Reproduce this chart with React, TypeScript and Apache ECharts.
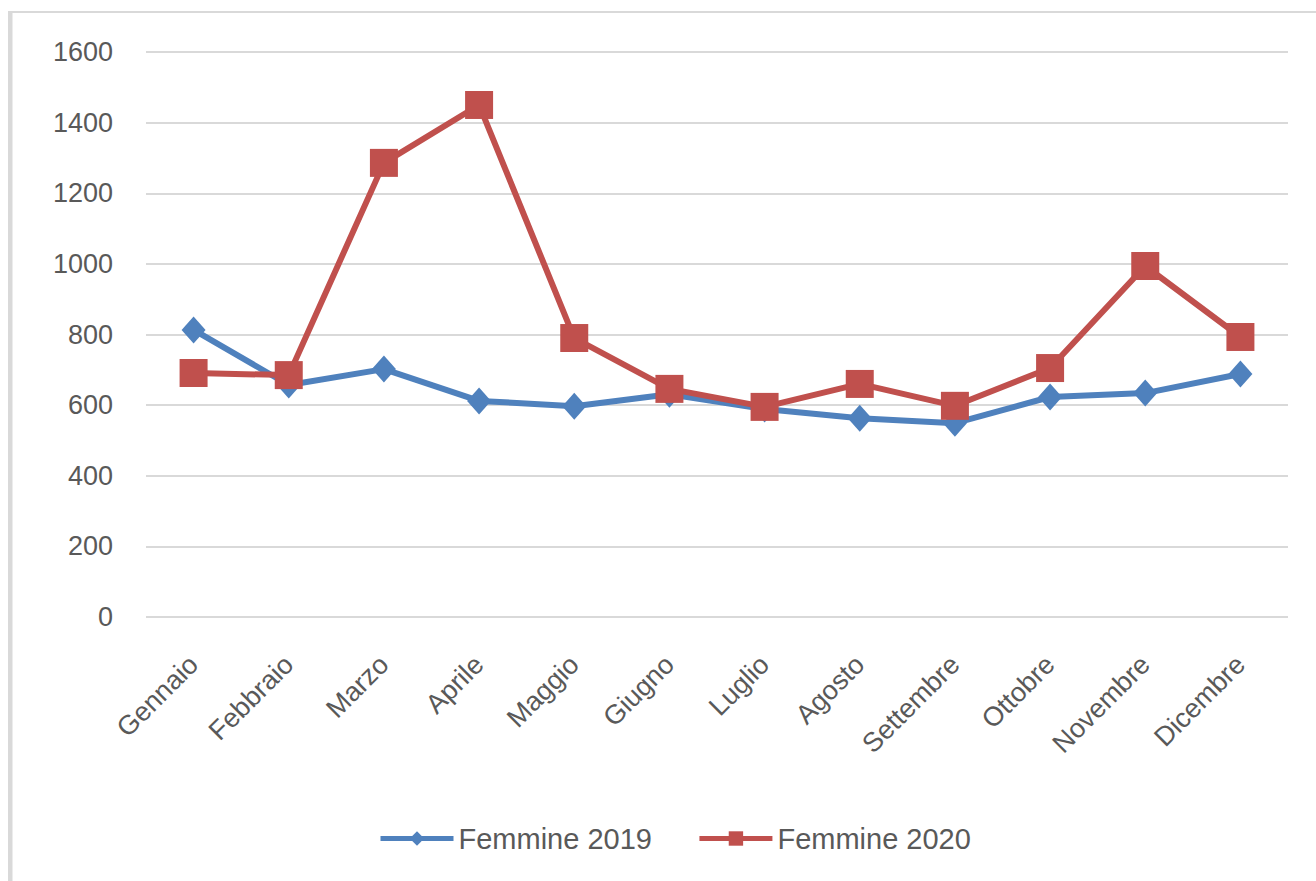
import React, { useEffect, useRef } from "react";
import * as echarts from "echarts";

const months = ["Gennaio", "Febbraio", "Marzo", "Aprile", "Maggio", "Giugno", "Luglio", "Agosto", "Settembre", "Ottobre", "Novembre", "Dicembre"];
const femmine2019 = [813, 657, 702, 612, 597, 631, 589, 563, 549, 623, 634, 688];
const femmine2020 = [691, 685, 1286, 1450, 790, 646, 595, 660, 598, 705, 994, 793];
const yTicks = { min: 0, max: 1600, interval: 200 };

const FONT = "'Liberation Sans', Arial, sans-serif";
const TEXT = "#595959";

export default function App() {
  const ref = useRef<HTMLDivElement>(null);
  useEffect(() => {
    const chart = echarts.init(ref.current!, null, { renderer: "svg" });
    chart.setOption({
      animation: false,
      backgroundColor: "#ffffff",
      textStyle: { fontFamily: FONT },
      graphic: [
        { type: "rect", shape: { x: 8, y: 11, width: 1308, height: 2 }, style: { fill: "#D9D9D9" }, silent: true },
        { type: "rect", shape: { x: 8, y: 11, width: 4.5, height: 870 }, style: { fill: "#D9D9D9" }, silent: true },
      ],
      grid: { left: 146, right: 28, top: 52, bottom: 264, containLabel: false },
      legend: {
        left: 373,
        top: 819,
        itemWidth: 73,
        itemHeight: 18,
        itemGap: 45,
        lineStyle: { width: 5 },
        textStyle: { fontSize: 29, color: TEXT, fontFamily: FONT },
        data: ["Femmine 2019", "Femmine 2020"],
      },
      xAxis: {
        type: "category",
        data: months,
        boundaryGap: true,
        axisLine: { show: false },
        axisTick: { show: false },
        axisLabel: { rotate: 45, fontSize: 27, color: TEXT, margin: 43, interval: 0, fontFamily: FONT },
      },
      yAxis: {
        type: "value",
        min: yTicks.min,
        max: yTicks.max,
        interval: yTicks.interval,
        axisLine: { show: false },
        axisTick: { show: false },
        axisLabel: { fontSize: 27, color: TEXT, margin: 33, fontFamily: FONT, formatter: (v: number) => String(v) },
        splitLine: { lineStyle: { color: "#D9D9D9", width: 2 } },
      },
      series: [
        {
          name: "Femmine 2019",
          type: "line",
          data: femmine2019,
          color: "#4F81BD",
          lineStyle: { width: 6, color: "#4F81BD" },
          itemStyle: { color: "#4F81BD" },
          symbol: "diamond",
          symbolSize: [24, 27],
        },
        {
          name: "Femmine 2020",
          type: "line",
          data: femmine2020,
          color: "#C0504D",
          lineStyle: { width: 6, color: "#C0504D" },
          itemStyle: { color: "#C0504D" },
          symbol: "rect",
          symbolSize: 28,
        },
      ],
    });
    return () => chart.dispose();
  }, []);
  return <div ref={ref} style={{ position: "absolute", left: 0, top: 0, width: 1316, height: 881 }} />;
}
